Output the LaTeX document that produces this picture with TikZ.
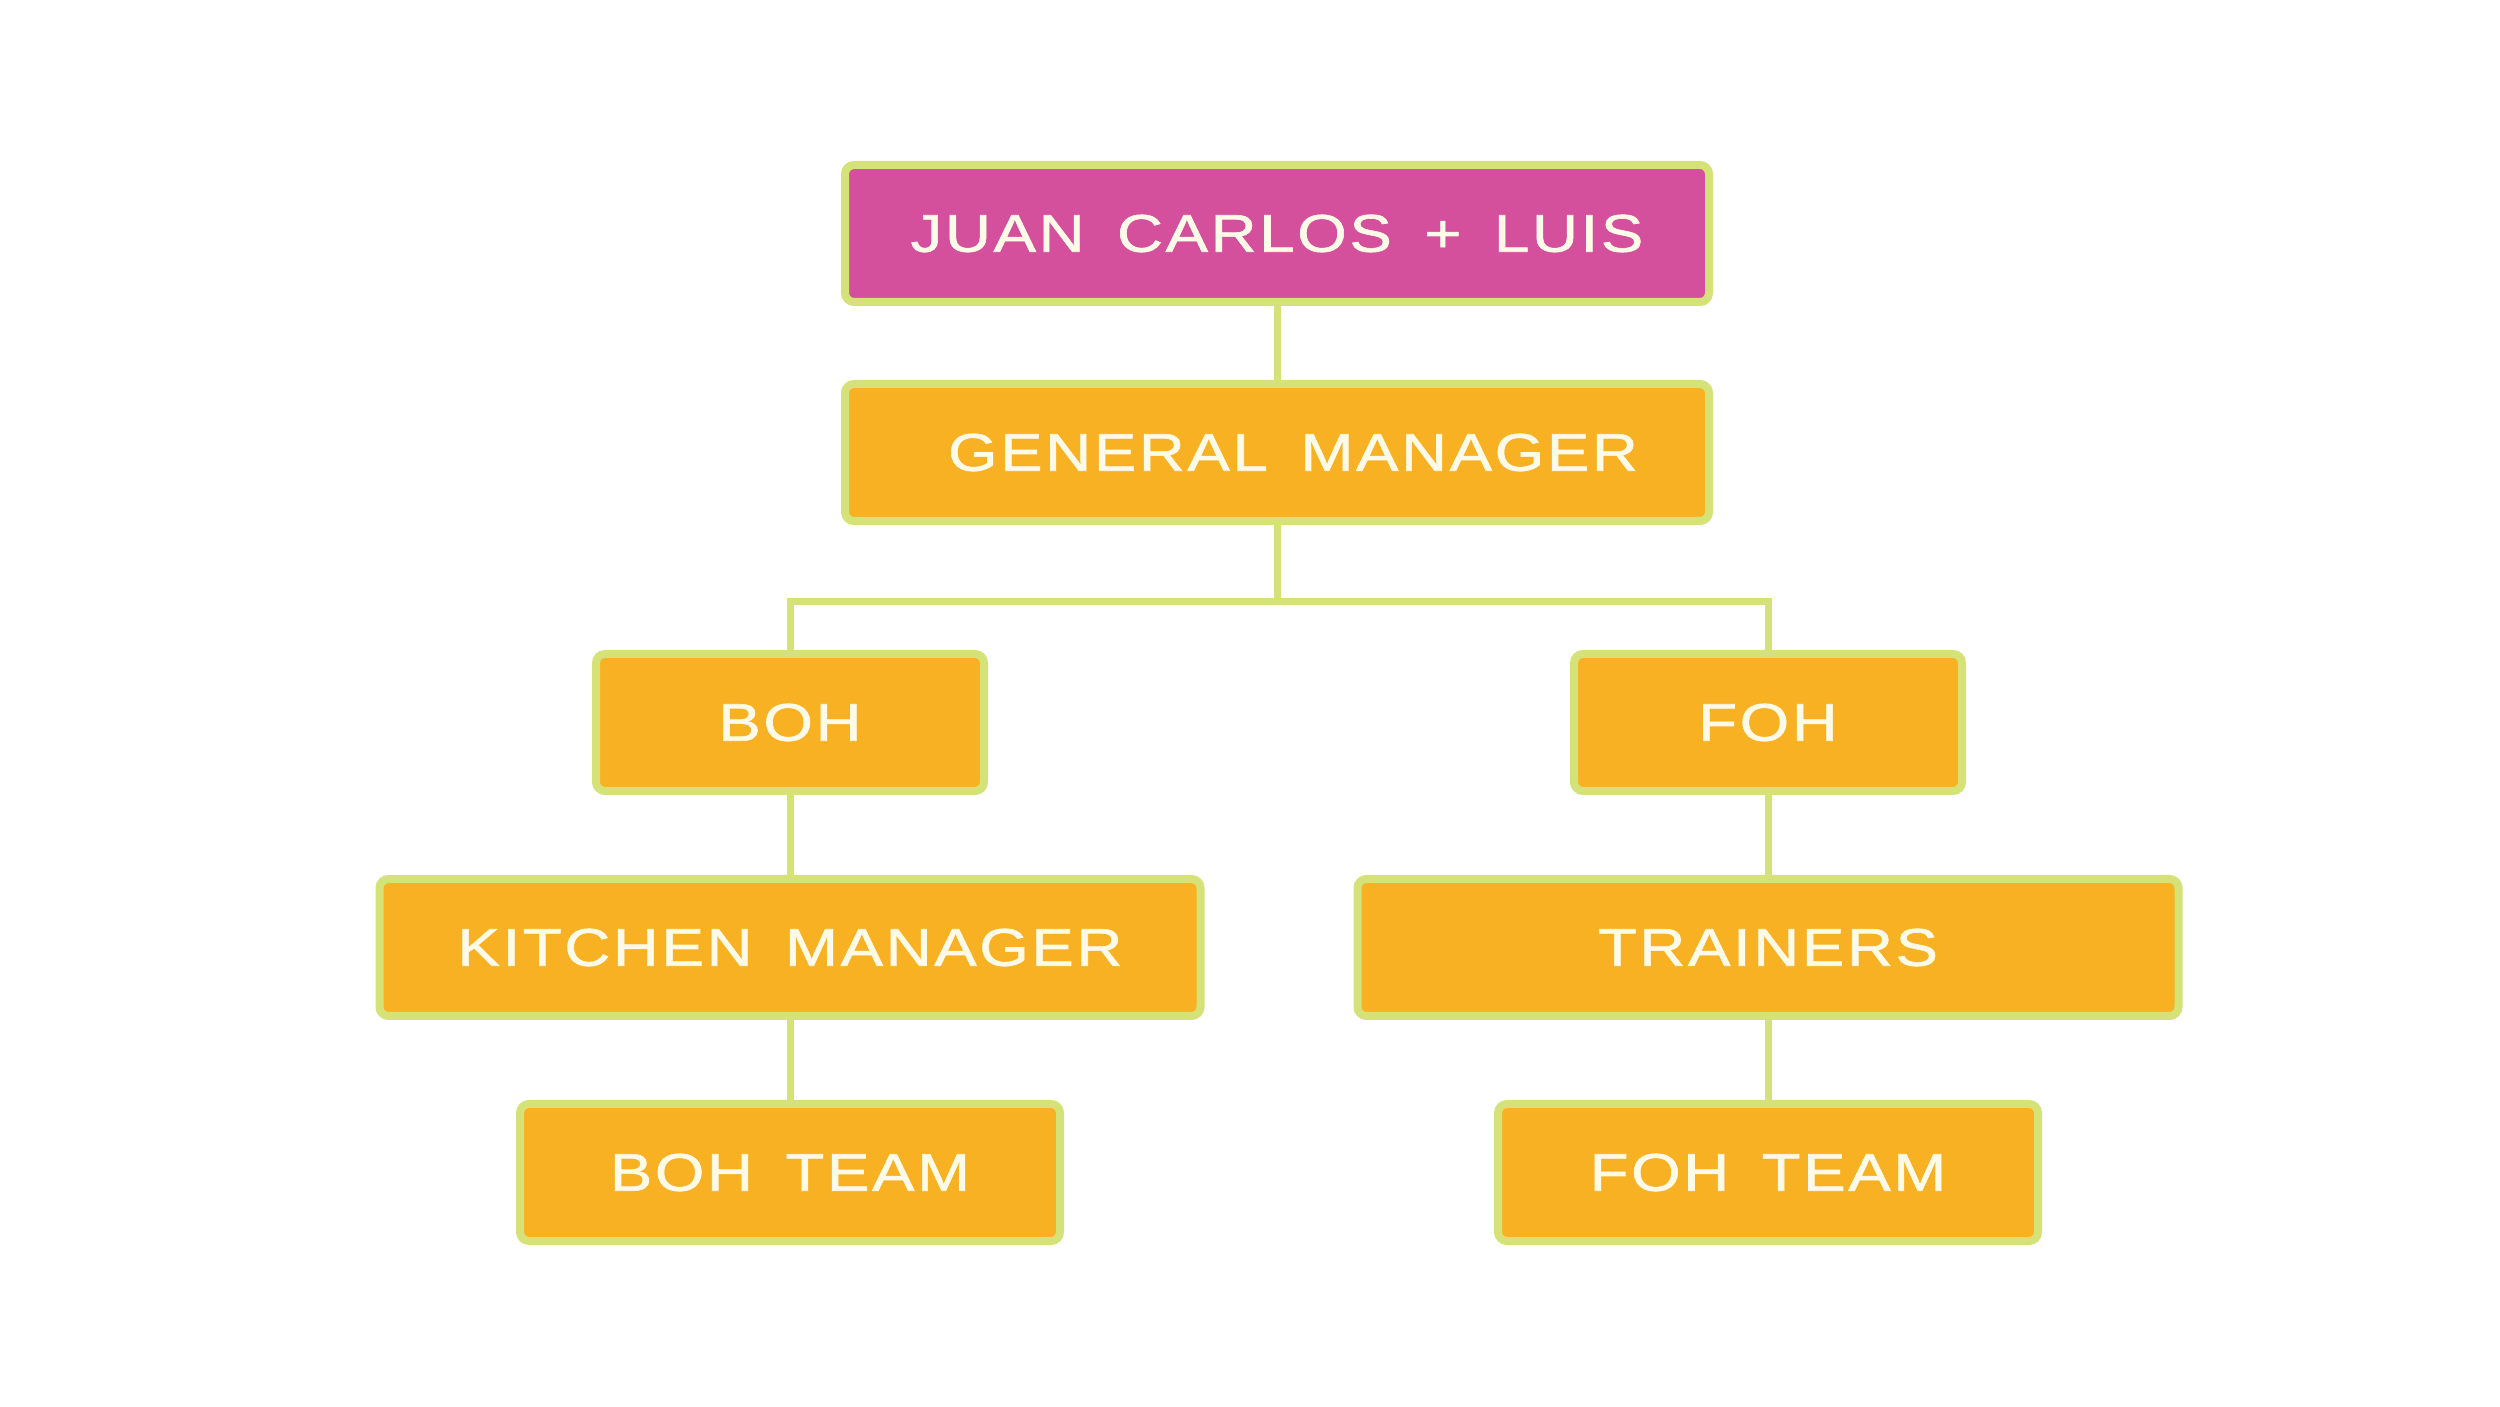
\documentclass[tikz,border=0pt]{standalone}
\usepackage{fontspec}
\newfontfamily\chartfont{Liberation Sans}[FakeStretch=1.2,LetterSpace=5,WordSpace=1.6,FakeBold=1.2]
\definecolor{ownerpink}{HTML}{D4509C}
\definecolor{staffgold}{HTML}{F8B122}
\definecolor{rimgreen}{HTML}{D4E278}
\definecolor{labelcream}{HTML}{FDFBE8}

\begin{document}
\begin{tikzpicture}[x=1pt,y=1pt]
  \tikzstyle{role}=[rectangle,rounded corners=9pt,draw=rimgreen,line width=8pt,
                    fill=staffgold,text=labelcream,inner sep=0pt,minimum height=137pt,
                    font=\chartfont\fontsize{53}{60}\selectfont]
  \tikzstyle{owner}=[role,fill=ownerpink]
  \tikzstyle{link}=[draw=rimgreen,line width=7pt]
  \fill[white] (0,0) rectangle (2500,1406);
  \useasboundingbox (0,0) rectangle (2500,1406);
% the chart, top down
\node[owner,minimum width=864pt] (owners)   at (1277,1172.5) {JUAN CARLOS + LUIS};
\node[role,minimum width=864pt]  (gm)       at (1277,953.5)  {\hspace*{32pt}GENERAL MANAGER};
\node[role,minimum width=388pt]  (boh)      at (790,683.5)   {BOH};
\node[role,minimum width=388pt]  (foh)      at (1768,683.5)  {FOH};
\node[role,minimum width=821pt]  (kitchen)  at (790,458.5)   {KITCHEN MANAGER};
\node[role,minimum width=821pt]  (trainers) at (1768,458.5)  {TRAINERS};
\node[role,minimum width=540pt]  (bohteam)  at (790,233.5)   {BOH TEAM};
\node[role,minimum width=540pt]  (fohteam)  at (1768,233.5)  {FOH TEAM};
\coordinate (fork) at (1277,804);
% connectors
\draw[link] (owners.south) -- (gm.north);
\draw[link] (gm.south) -- (fork);
\draw[link] (fork) -| (boh.north);
\draw[link] (fork) -| (foh.north);
\draw[link] (boh.south) -- (kitchen.north);
\draw[link] (kitchen.south) -- (bohteam.north);
\draw[link] (foh.south) -- (trainers.north);
\draw[link] (trainers.south) -- (fohteam.north);
\end{tikzpicture}
\end{document}
